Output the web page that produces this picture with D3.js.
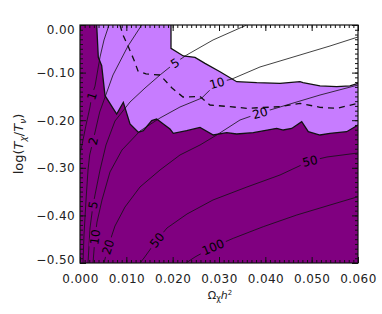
<!DOCTYPE html>
<html>
<head>
<meta charset="utf-8">
<script src="https://cdn.jsdelivr.net/npm/d3@7"></script>
<style>
  body { margin: 0; background: #fff; }
  svg { display: block; font-family: "DejaVu Sans", sans-serif; }
</style>
</head>
<body>
<svg id="chart" width="382" height="314"></svg>
<script>
const xTicks = [0, 0.01, 0.02, 0.03, 0.04, 0.05, 0.06];
const yTicks = [0, -0.1, -0.2, -0.3, -0.4, -0.5];

// edge of the dark (excluded) region, from the top axis to the right axis
const darkEdge = [[0.0036, 0], [0.00395, -0.0679], [0.00468, -0.0855], [0.0054, -0.1485], [0.00792, -0.187],
  [0.00935, -0.1624], [0.01079, -0.208], [0.01258, -0.2254], [0.01366, -0.2221], [0.01548, -0.201],
  [0.01655, -0.1975], [0.01798, -0.208], [0.01942, -0.2185], [0.02014, -0.2275], [0.02303, -0.2221],
  [0.0259, -0.2153], [0.02877, -0.2311], [0.03166, -0.2263], [0.03382, -0.229], [0.0374, -0.2263],
  [0.04245, -0.217], [0.04388, -0.2206], [0.04569, -0.2174], [0.04785, -0.2031], [0.04927, -0.2242],
  [0.0518, -0.2311], [0.05396, -0.2275], [0.05756, -0.2242], [0.06, -0.2101]];

// edge of the white region, top right
const whiteEdge = [[0.01964, 0], [0.01964, -0.0489], [0.0223, -0.0651], [0.02482, -0.0679], [0.02698, -0.0805],
  [0.03022, -0.0981], [0.03382, -0.1191], [0.03814, -0.1212], [0.04317, -0.1225], [0.04748, -0.1191],
  [0.04813, -0.1212], [0.0518, -0.1281], [0.0554, -0.1296], [0.05827, -0.1281], [0.06, -0.1225]];

const dashedContour = [[0.00863, 0], [0.00928, -0.021], [0.01036, -0.0441], [0.01165, -0.0735], [0.01252, -0.0966],
  [0.01424, -0.1029], [0.01727, -0.105], [0.01986, -0.1324], [0.02223, -0.1513], [0.0259, -0.1502],
  [0.02806, -0.1681], [0.03237, -0.1716], [0.03598, -0.175], [0.04317, -0.1716], [0.04748, -0.1645],
  [0.0518, -0.1729], [0.0554, -0.175], [0.06, -0.1645]];

const contour1 = [[0.00626, 0], [0.00518, -0.0315], [0.00432, -0.0672], [0.00324, -0.1282], [0.00253, -0.1492],
  [0.00216, -0.1723], [0.0013, -0.2101], [0.00043, -0.2521], [0, -0.2689]];
const contour2 = [[0.01332, 0], [0.01036, -0.0441], [0.00712, -0.105], [0.00518, -0.1576], [0.00425, -0.1828],
  [0.00345, -0.2164], [0.00281, -0.2437], [0.00209, -0.2731], [0.00173, -0.3046], [0.0013, -0.3676],
  [0.00086, -0.4412], [0.00065, -0.5]];
const contour5 = [[0.03598, 0], [0.02871, -0.0315], [0.02303, -0.063], [0.0205, -0.0798], [0.01727, -0.105],
  [0.01403, -0.1324], [0.01079, -0.1618], [0.00755, -0.2017], [0.00561, -0.2521], [0.00432, -0.3046],
  [0.00345, -0.3466], [0.00281, -0.3782], [0.00216, -0.4265], [0.00173, -0.5]];
const contour10 = [[0.06, -0.0252], [0.05396, -0.0441], [0.04964, -0.0567], [0.04317, -0.0756], [0.03885, -0.0882],
  [0.03281, -0.1134], [0.02957, -0.1218], [0.02627, -0.1535], [0.02158, -0.1723], [0.01727, -0.1954],
  [0.01295, -0.2227], [0.00906, -0.2626], [0.00647, -0.3088], [0.00475, -0.3676], [0.00367, -0.4139],
  [0.00324, -0.4454], [0.00281, -0.5]];
const contour20 = [[0.06, -0.1261], [0.0518, -0.1471], [0.04532, -0.166], [0.03885, -0.1849], [0.03453, -0.1996],
  [0.0295, -0.2311], [0.0259, -0.2521], [0.02158, -0.2731], [0.01727, -0.3046], [0.01295, -0.3403],
  [0.00971, -0.3824], [0.00755, -0.4223], [0.00604, -0.4664], [0.00518, -0.5]];
const contour50 = [[0.06, -0.2689], [0.05331, -0.2773], [0.04964, -0.2857], [0.04317, -0.3151], [0.03604, -0.3403],
  [0.02871, -0.3676], [0.02309, -0.3971], [0.01878, -0.4265], [0.01662, -0.4517], [0.01381, -0.4895],
  [0.01295, -0.5]];
const contour100 = [[0.06, -0.3607], [0.05396, -0.3782], [0.04677, -0.3992], [0.03956, -0.4237], [0.03309, -0.4481],
  [0.02871, -0.4664], [0.02482, -0.4874], [0.02288, -0.5]];

const contourLevels = ["1", "2", "5", "10", "20", "50", "100"];
const contourLines = [contour1, contour2, contour5, contour10, contour20, contour50, contour100];

// level, x, y of each in-line label
const contourLabels = [
  ["1", 0.00253, -0.1492], ["2", 0.00281, -0.2437],
  ["5", 0.0205, -0.0798], ["5", 0.00281, -0.3782],
  ["10", 0.02957, -0.1218], ["10", 0.00324, -0.4454],
  ["20", 0.03885, -0.1849], ["20", 0.00604, -0.4664],
  ["50", 0.04964, -0.2857], ["50", 0.01662, -0.4517],
  ["100", 0.02871, -0.4664],
];

const margin = { left: 80, right: 24, top: 25, bottom: 51 };
const width = 382, height = 314;
const x0 = margin.left, x1 = width - margin.right;
const y0 = margin.top, y1 = height - margin.bottom;

const x = d3.scaleLinear().domain([0, 0.06]).range([x0, x1]);
const y = d3.scaleLinear().domain([-0.5, 0]).range([y1, y0]);

const svg = d3.select("#chart");
const defs = svg.append("defs");

defs.append("clipPath").attr("id", "plot-clip")
  .append("rect").attr("x", x0).attr("y", y0).attr("width", x1 - x0).attr("height", y1 - y0);

const line = d3.line().x((d) => x(d[0])).y((d) => y(d[1]));

// angle of the contour near a label, kept readable
function labelAngle(pts, lx, ly) {
  let best = Infinity, ang = 0;
  for (let i = 0; i < pts.length - 1; i++) {
    const ax = x(pts[i][0]), ay = y(pts[i][1]);
    const bx = x(pts[i + 1][0]), by = y(pts[i + 1][1]);
    const dx = bx - ax, dy = by - ay;
    let t = ((lx - ax) * dx + (ly - ay) * dy) / (dx * dx + dy * dy);
    t = Math.max(0, Math.min(1, t));
    const d = Math.hypot(ax + t * dx - lx, ay + t * dy - ly);
    if (d < best) { best = d; ang = Math.atan2(dy, dx) * 180 / Math.PI; }
  }
  if (ang > 90) ang -= 180;
  if (ang < -90) ang += 180;
  return ang;
}

const labels = contourLabels.map(([lev, lx, ly]) => {
  const pts = contourLines[contourLevels.indexOf(lev)];
  const px = x(lx), py = y(ly);
  return { lev, px, py, ang: labelAngle(pts, px, py) };
});

// gaps in the contour lines under the labels
const mask = defs.append("mask").attr("id", "gaps").attr("maskUnits", "userSpaceOnUse")
  .attr("x", 0).attr("y", 0).attr("width", width).attr("height", height);
mask.append("rect").attr("width", width).attr("height", height).attr("fill", "#fff");
mask.selectAll("rect.gap")
  .data(labels)
  .join("rect")
  .attr("class", "gap")
  .attr("x", (d) => -(d.lev.length * 7.6 + 5) / 2)
  .attr("y", -5)
  .attr("width", (d) => d.lev.length * 7.6 + 5)
  .attr("height", 10)
  .attr("fill", "#000")
  .attr("transform", (d) => `translate(${d.px},${d.py}) rotate(${d.ang})`);

const plot = svg.append("g").attr("clip-path", "url(#plot-clip)");

plot.append("rect")
  .attr("x", x0).attr("y", y0).attr("width", x1 - x0).attr("height", y1 - y0)
  .attr("fill", "#c77cff");

plot.append("path")
  .datum([...whiteEdge, [0.06, 0]])
  .attr("d", line)
  .attr("fill", "#fff");

plot.append("path")
  .datum([[0, 0], ...darkEdge, [0.06, -0.5], [0, -0.5]])
  .attr("d", line)
  .attr("fill", "#800080");

plot.append("g")
  .attr("mask", "url(#gaps)")
  .selectAll("path")
  .data(contourLines)
  .join("path")
  .attr("d", line)
  .attr("fill", "none")
  .attr("stroke", "#111")
  .attr("stroke-width", 0.8);

plot.append("path")
  .datum(dashedContour)
  .attr("d", line)
  .attr("fill", "none")
  .attr("stroke", "#111")
  .attr("stroke-width", 1.3)
  .attr("stroke-dasharray", "6,5");

plot.selectAll("path.edge")
  .data([darkEdge, whiteEdge])
  .join("path")
  .attr("class", "edge")
  .attr("d", line)
  .attr("fill", "none")
  .attr("stroke", "#111")
  .attr("stroke-width", 1.3);

plot.selectAll("text.clabel")
  .data(labels)
  .join("text")
  .attr("class", "clabel")
  .attr("transform", (d) => `translate(${d.px},${d.py}) rotate(${d.ang})`)
  .attr("text-anchor", "middle")
  .attr("dy", "0.36em")
  .attr("font-size", 12)
  .attr("fill", "#000")
  .text((d) => d.lev);

// axes: ticks point inwards on all four sides
const minorX = d3.range(0, 61).map((i) => i / 1000);
const minorY = d3.range(0, 51).map((i) => -i / 100);

function styleAxis(g) {
  g.select(".domain").remove();
  g.selectAll(".tick line").attr("stroke", "#111");
  g.selectAll(".tick text")
    .attr("font-size", 12)
    .attr("fill", "#222")
    .attr("font-family", "DejaVu Sans, sans-serif")
    .attr("letter-spacing", 0.4);
}

svg.append("g").attr("transform", `translate(0,${y1})`)
  .call(d3.axisBottom(x).tickValues(minorX).tickSize(-3).tickFormat(""))
  .call(styleAxis);
svg.append("g").attr("transform", `translate(0,${y0})`)
  .call(d3.axisTop(x).tickValues(minorX).tickSize(-3).tickFormat(""))
  .call(styleAxis);
svg.append("g").attr("transform", `translate(${x0},0)`)
  .call(d3.axisLeft(y).tickValues(minorY).tickSize(-3).tickFormat(""))
  .call(styleAxis);
svg.append("g").attr("transform", `translate(${x1},0)`)
  .call(d3.axisRight(y).tickValues(minorY).tickSize(-3).tickFormat(""))
  .call(styleAxis);

svg.append("g").attr("transform", `translate(0,${y1})`)
  .call(d3.axisBottom(x).tickValues(xTicks).tickSize(-6).tickPadding(11).tickFormat(d3.format(".3f")))
  .call(styleAxis);
svg.append("g").attr("transform", `translate(0,${y0})`)
  .call(d3.axisTop(x).tickValues(xTicks).tickSize(-6).tickFormat(""))
  .call(styleAxis);
const yAxis = svg.append("g").attr("transform", `translate(${x0},0)`)
  .call(d3.axisLeft(y).tickValues(yTicks).tickSize(-6).tickPadding(5).tickFormat(d3.format(".2f")))
  .call(styleAxis);
svg.append("g").attr("transform", `translate(${x1},0)`)
  .call(d3.axisRight(y).tickValues(yTicks).tickSize(-6).tickFormat(""))
  .call(styleAxis);

// end labels are kept inside the axis range
yAxis.selectAll(".tick text")
  .attr("dy", (d) => (d === 0 ? "0.71em" : d === -0.5 ? "0em" : "0.32em"));

svg.append("rect")
  .attr("x", x0).attr("y", y0).attr("width", x1 - x0).attr("height", y1 - y0)
  .attr("fill", "none")
  .attr("stroke", "#111")
  .attr("stroke-width", 1.2);

// axis titles
const xTitle = svg.append("text")
  .attr("x", (x0 + x1) / 2 + 1)
  .attr("y", 299)
  .attr("text-anchor", "middle")
  .attr("font-size", 11)
  .attr("fill", "#222");
xTitle.append("tspan").text("Ω");
xTitle.append("tspan").attr("font-size", 8).attr("dy", 2).text("χ");
xTitle.append("tspan").attr("font-style", "italic").attr("dy", -2).text("h");
xTitle.append("tspan").attr("font-size", 7).attr("dy", -4).text("2");

const yTitle = svg.append("text")
  .attr("transform", `translate(23,${(y0 + y1) / 2}) rotate(-90)`)
  .attr("text-anchor", "middle")
  .attr("font-size", 13)
  .attr("fill", "#222");
yTitle.append("tspan").text("log(");
yTitle.append("tspan").attr("font-style", "italic").text("T");
yTitle.append("tspan").attr("font-size", 9).attr("font-style", "italic").attr("dy", 3).text("χ");
yTitle.append("tspan").attr("dy", -3).text("/");
yTitle.append("tspan").attr("font-style", "italic").text("T");
yTitle.append("tspan").attr("font-size", 9).attr("font-style", "italic").attr("dy", 3).text("ν");
yTitle.append("tspan").attr("dy", -3).text(")");
</script>
</body>
</html>
